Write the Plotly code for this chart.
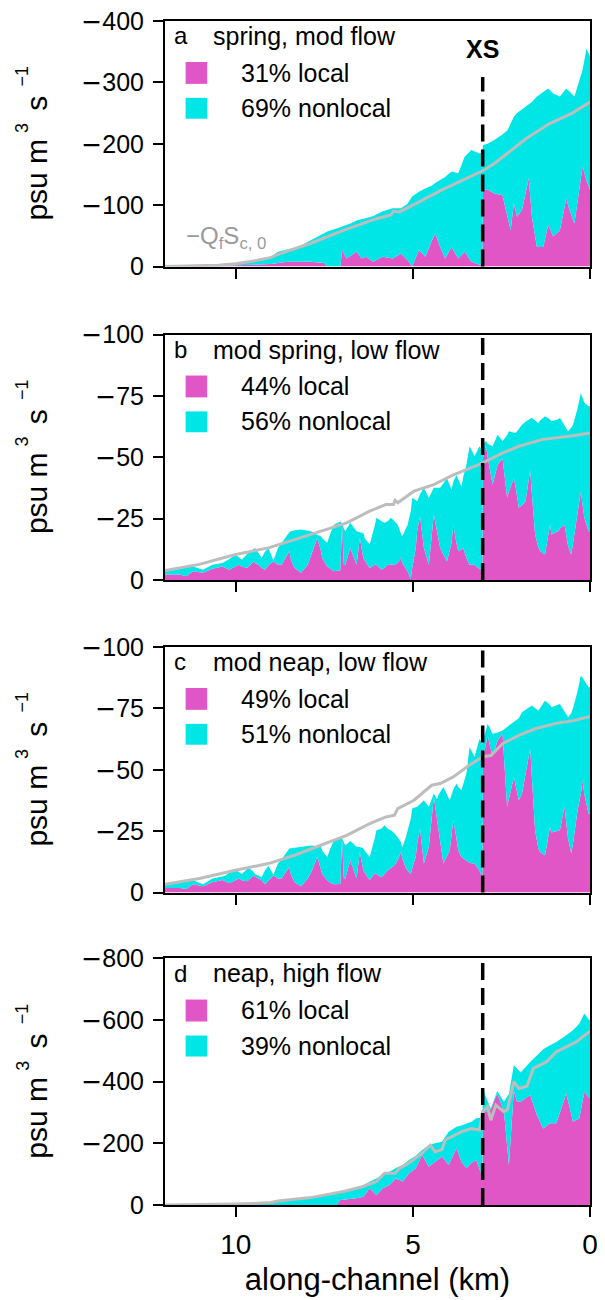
import plotly.graph_objects as go

# ---------------- data (values in psu m^3 s^-1, x in km) ----------------
XS_KM = 3.03

# panel a: spring, mod flow
km_a = [12.0, 11.0, 10.5, 10.0, 9.5, 9.0, 8.81, 8.53, 8.25, 7.88, 7.51, 7.42, 7.15, 7.05, 7.00,
        6.87, 6.73, 6.59, 6.45, 6.31, 6.13, 5.85, 5.57, 5.34, 5.16, 5.02, 4.83, 4.65, 4.46, 4.37,
        4.23, 4.09, 3.91, 3.72, 3.54, 3.35, 3.12, 3.04, 3.02, 2.89, 2.70, 2.47, 2.33, 2.24, 2.15,
        2.06, 1.92, 1.73, 1.64, 1.50, 1.32, 1.18, 1.04, 0.85, 0.67, 0.58, 0.44, 0.21, 0.10, 0.0]
local_a = [-0, -0.5, -1, -2, -3, -4, -6, -8, -8, -8, -6, -0, -0, -0, -27,
           -13, -19, -24, -13, -16, -8, -16, -13, -21, -11, -0, -27, -16, -43, -54,
           -32, -13, -32, -13, -24, -8, -3, -3, -125, -125, -119, -116, -81, -59, -103,
           -81, -92, -144, -81, -32, -32, -68, -49, -59, -111, -92, -70, -163, -140, -125]
total_a = [-0.5, -1, -2, -5, -9, -16, -24, -28, -32, -43, -55, -57, -62, -64, -66,
           -68, -71, -75, -77, -80, -82, -90, -95, -95, -102, -114, -122, -127, -132, -136,
           -141, -146, -155, -152, -179, -190, -184, -186, -198, -200, -206, -215, -222, -232, -244,
           -250, -256, -263, -268, -277, -285, -290, -282, -277, -290, -285, -277, -320, -355, -342]
gray_km_a = [12.0, 11.0, 10.5, 10.0, 9.5, 9.0, 8.81, 7.88, 6.96, 6.03, 5.62, 5.55, 5.38, 5.0,
             4.18, 3.62, 3.03, 2.70, 2.34, 1.79, 1.14, 0.50, 0.08, 0.0]
gray_a = [-0, -1, -2, -4.5, -9, -15, -20, -38, -59, -78, -84, -90, -89, -100,
          -125, -140, -156, -168, -184, -209, -233, -250, -265, -268]

# panel b: mod spring, low flow
km_b = [12.0, 11.58, 11.40, 11.21, 10.93, 10.66, 10.38, 10.29, 10.19, 10.01, 9.92, 9.83, 9.69, 9.64,
        9.50, 9.46, 9.36, 9.27, 9.18, 9.08, 8.94, 8.81, 8.71, 8.49, 8.44, 8.34, 8.16, 7.97, 7.88,
        7.70, 7.60, 7.56, 7.42, 7.33, 7.23, 7.05, 7.00, 6.95, 6.91, 6.77, 6.59, 6.50, 6.40, 6.36,
        6.22, 6.08, 6.03, 5.89, 5.80, 5.71, 5.62, 5.52, 5.43, 5.34, 5.30, 5.15, 5.06, 5.02, 4.92,
        4.88, 4.80, 4.69, 4.55, 4.41, 4.23, 4.04, 3.91, 3.86, 3.77, 3.72, 3.63, 3.58, 3.49, 3.40,
        3.26, 3.12, 3.04, 3.02, 2.94, 2.89, 2.75, 2.61, 2.47, 2.34, 2.29, 2.15, 2.10, 2.01, 1.92,
        1.82, 1.69, 1.64, 1.55, 1.46, 1.41, 1.27, 1.13, 1.09, 0.90, 0.85, 0.72, 0.62, 0.53, 0.48,
        0.35, 0.26, 0.16, 0.04, 0.0]
local_b = [-2.3, -2.3, -1.6, -3.6, -3.0, -4.6, -5.5, -5.0, -4.2, -5.5, -6.2, -5.5, -4.9, -5.5,
           -7.6, -7.0, -6.2, -5.0, -4.2, -6.0, -7.6, -6.2, -6.2, -11.8, -8.0, -4.9, -3.0, -6.2, -10.0,
           -17.1, -12.0, -9.0, -5.5, -4.5, -3.6, -4.0, -22.5, -6.2, -6.2, -13.1, -6.2, -17.1, -9.0, -8.0,
           -4.9, -6.2, -6.2, -4.2, -5.0, -6.2, -6.2, -6.2, -7.0, -9.0, -7.0, -3.6, -0.4, -5.0, -13.1,
           -20.0, -26.0, -13.1, -6.2, -26.7, -13.1, -7.6, -15.0, -22.5, -15.0, -11.8, -12.5, -13.1, -9.0, -6.2,
           -6.2, -4.5, -3.6, -50.0, -55.0, -50.0, -38.9, -46.9, -49.6, -33.5, -36.0, -41.5, -38.0, -29.5, -30.5,
           -32.1, -44.7, -35.0, -18.6, -13.5, -11.8, -10.4, -22.5, -18.6, -19.9, -21.0, -22.5, -14.0, -10.4, -15.0,
           -28.1, -36.0, -25.4, -19.9, -19.9]
total_b = [-3.6, -4.6, -4.8, -5.5, -4.2, -6.2, -7.0, -7.6, -8.5, -10.4, -9.5, -8.3, -10.5, -11.1,
           -12.5, -13.1, -11.0, -9.0, -11.5, -13.1, -8.0, -13.1, -15.0, -19.5, -19.9, -20.3, -20.6, -20.0, -19.9,
           -18.5, -17.9, -17.0, -15.2, -19.0, -22.5, -23.9, -23.0, -21.0, -19.9, -23.3, -19.9, -19.5, -19.2, -17.0,
           -14.5, -22.0, -25.4, -24.0, -23.3, -24.0, -25.4, -24.0, -22.5, -19.0, -17.9, -22.5, -28.0, -33.5, -32.5,
           -32.1, -35.0, -37.6, -33.5, -37.6, -37.6, -41.5, -36.9, -40.0, -42.8, -41.0, -38.0, -42.0, -46.9, -54.5,
           -50.4, -54.5, -52.4, -55.0, -56.6, -55.5, -54.5, -59.2, -56.6, -59.0, -60.6, -60.0, -59.9, -61.5, -63.3,
           -64.5, -65.5, -66.1, -65.0, -64.0, -65.0, -66.7, -65.5, -64.7, -65.5, -66.1, -63.0, -60.6, -62.0, -63.3,
           -70.0, -76.2, -72.2, -70.8, -70.8]
gray_km_b = [12.0, 11.03, 10.01, 9.08, 8.34, 7.6, 6.87, 6.22, 5.76, 5.55, 5.50, 5.43, 4.97, 4.41,
             3.86, 3.40, 3.03, 2.47, 2.01, 1.36, 0.81, 0.44, 0.0]
gray_b = [-3.9, -6.4, -10.4, -13.1, -16.5, -19.9, -23.3, -28.1, -30.8, -30.8, -32.5, -31.5, -36.2, -38.9,
          -42.8, -45.5, -47.7, -51.7, -54.5, -57.2, -58.1, -58.9, -59.9]

# panel c: mod neap, low flow
km_c = [12.0, 11.58, 11.40, 11.21, 10.93, 10.66, 10.38, 10.29, 10.19, 10.01, 9.92, 9.83, 9.69, 9.64,
        9.50, 9.46, 9.27, 9.18, 9.08, 8.94, 8.81, 8.71, 8.49, 8.44, 8.34, 8.16, 7.97, 7.88,
        7.70, 7.60, 7.56, 7.42, 7.33, 7.23, 7.05, 7.00, 6.95, 6.91, 6.77, 6.59, 6.50, 6.40, 6.36,
        6.22, 6.08, 6.03, 5.89, 5.80, 5.71, 5.62, 5.52, 5.43, 5.34, 5.30, 5.21, 5.15, 5.06, 5.02,
        4.92, 4.88, 4.80, 4.69, 4.55, 4.41, 4.32, 4.27, 4.14, 3.96, 3.86, 3.77, 3.72, 3.63, 3.49,
        3.40, 3.26, 3.12, 3.04, 3.02, 2.89, 2.75, 2.61, 2.47, 2.34, 2.15, 2.01, 1.92, 1.69, 1.64,
        1.55, 1.46, 1.41, 1.27, 1.13, 1.09, 0.85, 0.72, 0.62, 0.53, 0.48, 0.35, 0.26, 0.21, 0.16,
        0.04, 0.0]
local_c = [-1.9, -1.9, -1.4, -3.4, -2.6, -4.2, -5.1, -4.5, -3.8, -5.0, -5.7, -5.0, -4.6, -5.0,
           -6.9, -6.5, -5.0, -3.4, -5.0, -6.9, -5.7, -5.7, -10.4, -7.0, -4.2, -2.6, -5.7, -8.0,
           -14.5, -10.0, -7.6, -5.0, -4.0, -3.4, -3.5, -21.9, -5.7, -5.7, -13.1, -5.7, -16.5, -9.0, -8.0,
           -5.0, -8.0, -7.6, -6.2, -7.5, -9.0, -10.0, -11.1, -13.0, -16.5, -14.0, -10.4, -9.0, -7.6, -10.0,
           -14.5, -20.0, -26.0, -11.8, -18.6, -38.9, -30.0, -25.4, -11.8, -17.2, -29.5, -22.0, -17.2, -14.5, -13.1,
           -12.0, -11.8, -9.0, -5.6, -55.0, -63.9, -55.3, -61.9, -64.7, -34.9, -47.1, -37.6, -40.3, -58.6, -45.0,
           -25.4, -18.0, -16.5, -15.2, -26.7, -24.5, -25.4, -34.9, -22.0, -15.9, -20.0, -33.5, -40.0, -45.7, -40.0,
           -32.1, -32.1]
total_c = [-3.0, -4.0, -4.3, -5.0, -3.4, -5.7, -6.5, -6.9, -8.0, -9.1, -8.5, -7.6, -9.5, -10.1,
           -8.5, -7.6, -6.2, -9.0, -10.8, -7.2, -11.8, -13.5, -17.9, -18.0, -18.5, -18.8, -19.0, -19.2,
           -19.0, -19.2, -17.0, -14.5, -18.0, -21.2, -22.5, -22.0, -20.5, -19.2, -21.0, -18.6, -18.5, -18.0, -17.0,
           -14.5, -22.0, -25.4, -26.0, -27.4, -26.0, -25.4, -24.0, -22.5, -20.5, -18.4, -22.0, -25.4, -30.0, -34.2,
           -34.5, -34.9, -36.0, -37.6, -34.9, -40.3, -38.0, -40.0, -43.0, -37.6, -42.0, -44.4, -43.0, -41.7, -48.5,
           -59.2, -55.3, -62.6, -60.6, -62.0, -68.7, -64.7, -65.2, -66.0, -67.4, -69.4, -71.0, -73.4, -75.5, -76.2,
           -75.0, -74.1, -75.0, -78.2, -76.5, -75.5, -76.8, -74.0, -71.4, -73.0, -75.0, -82.0, -88.4, -87.5, -86.3,
           -83.6, -83.6]
gray_km_c = [12.0, 11.03, 10.01, 9.08, 8.34, 7.6, 6.87, 6.22, 5.76, 5.52, 5.43, 4.97, 4.47, 4.23,
             3.86, 3.40, 3.03, 2.80, 2.47, 2.01, 1.55, 0.99, 0.44, 0.0]
gray_c = [-3.4, -5.7, -9.1, -11.8, -15.2, -19.2, -23.3, -28.1, -30.8, -31.5, -34.2, -37.6, -43.7, -44.4,
          -47.1, -51.9, -55.3, -55.8, -60.6, -64.0, -66.7, -68.8, -70.1, -71.7]

# panel d: neap, high flow
km_d = [12.0, 11.0, 10.0, 9.5, 9.0, 8.81, 7.88, 7.15, 7.05, 6.59, 6.40, 6.22, 6.03, 5.85, 5.66,
        5.48, 5.29, 5.11, 4.92, 4.74, 4.55, 4.37, 4.18, 3.99, 3.77, 3.63, 3.49, 3.35, 3.21, 3.08,
        3.04, 3.02, 2.94, 2.80, 2.62, 2.43, 2.29, 2.15, 2.06, 1.96, 1.69, 1.50, 1.32, 1.13, 0.95,
        0.67, 0.48, 0.30, 0.16, 0.02, 0.0]
local_d = [-0, -0, -0, -0, -0, -0, -0, -0, -16, -22, -27, -54, -32, -54, -65,
           -86, -76, -103, -119, -162, -124, -140, -157, -130, -184, -140, -119, -136, -146, -103,
           -90, -295, -303, -310, -362, -303, -130, -370, -335, -335, -357, -292, -248, -265, -265,
           -362, -270, -281, -367, -346, -346]
total_d = [-0.5, -1, -3, -5, -9, -11, -22, -40, -42, -55, -65, -75, -86, -97, -108,
           -120, -130, -146, -160, -178, -195, -200, -205, -238, -254, -258, -265, -270, -281, -283,
           -283, -378, -350, -313, -370, -335, -360, -454, -443, -430, -464, -486, -505, -518, -529,
           -551, -567, -589, -621, -599, -599]
gray_km_d = [12.0, 11.0, 10.0, 9.5, 9.0, 8.81, 7.88, 6.96, 6.40, 6.03, 5.80, 5.50, 5.38, 5.11,
             4.74, 4.51, 4.37, 4.18, 4.09, 3.81, 3.62, 3.35, 3.12, 3.03, 2.89, 2.80, 2.66, 2.43,
             2.33, 2.15, 2.01, 1.78, 1.60, 1.23, 0.95, 0.67, 0.39, 0.02, 0.0]
gray_d = [-0, -1, -3, -5, -8, -13, -24, -44, -60, -76, -103, -103, -119, -136,
          -168, -194, -173, -180, -211, -227, -238, -248, -243, -303, -318, -275, -324, -303,
          -310, -400, -378, -385, -443, -464, -497, -513, -529, -562, -565]

panel_letters = ["a", "b", "c", "d"]
panel_titles = ["spring, mod flow", "mod spring, low flow", "mod neap, low flow", "neap, high flow"]
local_pct = ["31% local", "44% local", "49% local", "61% local"]
nonlocal_pct = ["69% nonlocal", "56% nonlocal", "51% nonlocal", "39% nonlocal"]
y_ticks = [[0, -100, -200, -300, -400], [0, -25, -50, -75, -100],
           [0, -25, -50, -75, -100], [0, -200, -400, -600, -800]]
x_ticks = [10, 5, 0]

panels = [
    (km_a, local_a, total_a, gray_km_a, gray_a),
    (km_b, local_b, total_b, gray_km_b, gray_b),
    (km_c, local_c, total_c, gray_km_c, gray_c),
    (km_d, local_d, total_d, gray_km_d, gray_d),
]
for p in panels:
    assert len(p[0]) == len(p[1]) == len(p[2]), (len(p[0]), len(p[1]), len(p[2]))
    assert len(p[3]) == len(p[4])

# ---------------- style ----------------
MAGENTA = "#E056C6"
CYAN = "#00E6E6"
GRAY = "#BDBDBD"
FONT = "Arial, 'Liberation Sans', Helvetica, sans-serif"
FS = 24

domains = [[0.7926, 1.0], [0.5278, 0.7352], [0.2639, 0.4713], [0.0, 0.2083]]


def tick_label(v):
    if v == 0:
        return "0"
    return "<span style='font-family:DejaVu Sans'>\u2212</span>" + str(abs(v))


fig = go.Figure()
for i, (km, loc, tot, gkm, gv) in enumerate(panels):
    n = i + 1
    xa = "x" if n == 1 else f"x{n}"
    ya = "y" if n == 1 else f"y{n}"
    fig.add_trace(go.Scatter(x=km, y=loc, mode="lines", line=dict(width=0, color=MAGENTA),
                             fill="tozeroy", fillcolor=MAGENTA, xaxis=xa, yaxis=ya,
                             showlegend=False, hoverinfo="skip"))
    fig.add_trace(go.Scatter(x=km, y=tot, mode="lines", line=dict(width=0, color=CYAN),
                             fill="tonexty", fillcolor=CYAN, xaxis=xa, yaxis=ya,
                             showlegend=False, hoverinfo="skip"))
    fig.add_trace(go.Scatter(x=gkm, y=gv, mode="lines", line=dict(width=3, color=GRAY),
                             xaxis=xa, yaxis=ya, showlegend=False, hoverinfo="skip"))

layout = dict(
    width=605, height=1300,
    margin=dict(l=165, r=7, t=19, b=95),
    paper_bgcolor="white", plot_bgcolor="white",
    font=dict(family=FONT, size=FS, color="black"),
    showlegend=False,
)
axis_common = dict(showline=True, linewidth=2, linecolor="black", mirror=True,
                   ticks="outside", ticklen=10, tickwidth=2, tickcolor="black",
                   showgrid=False, zeroline=False)
shapes = []
annotations = []
X_MAIN = -0.3025   # y-title main text (paper x)
X_SUP = -0.336     # y-title superscripts (paper x)
for i in range(4):
    n = i + 1
    xk = "xaxis" if n == 1 else f"xaxis{n}"
    yk = "yaxis" if n == 1 else f"yaxis{n}"
    xr = "x" if n == 1 else f"x{n}"
    yr = "y" if n == 1 else f"y{n}"
    layout[xk] = dict(axis_common, domain=[0, 1], range=[12.0, 0], anchor=yr,
                      tickvals=x_ticks, showticklabels=(n == 4),
                      tickfont=dict(family=FONT, size=28), ticklabelstandoff=3)
    if n == 4:
        layout[xk]["title"] = dict(text="along-channel (km)", font=dict(size=31), standoff=10)
    yt = y_ticks[i]
    layout[yk] = dict(axis_common, domain=domains[i], range=[0, yt[-1]], anchor=xr,
                      tickvals=yt, ticktext=[tick_label(v) for v in yt], ticklabelstandoff=4,
                      tickfont=dict(family=FONT, size=25))
    # XS dashed line
    shapes.append(dict(type="line", xref=xr, yref=f"{yr} domain", x0=XS_KM, x1=XS_KM,
                       y0=0, y1=(0.772 if n == 1 else 1.0),
                       line=dict(color="black", width=3.5, dash="17px,8px")))
    # legend squares
    shapes.append(dict(type="rect", xref=f"{xr} domain", yref=f"{yr} domain",
                       x0=0.0485, x1=0.0993, y0=0.744, y1=0.833,
                       fillcolor=MAGENTA, line=dict(width=0)))
    shapes.append(dict(type="rect", xref=f"{xr} domain", yref=f"{yr} domain",
                       x0=0.0485, x1=0.0993, y0=0.602, y1=0.687,
                       fillcolor=CYAN, line=dict(width=0)))
    annotations += [
        dict(xref=f"{xr} domain", yref=f"{yr} domain", x=0.016, y=0.939, xanchor="left",
             yanchor="middle", text=panel_letters[i], showarrow=False, font=dict(size=FS)),
        dict(xref=f"{xr} domain", yref=f"{yr} domain", x=0.109, y=0.939, xanchor="left",
             yanchor="middle", text=panel_titles[i], showarrow=False, font=dict(size=25)),
        dict(xref=f"{xr} domain", yref=f"{yr} domain", x=0.175, y=0.789, xanchor="left",
             yanchor="middle", text=local_pct[i], showarrow=False, font=dict(size=25)),
        dict(xref=f"{xr} domain", yref=f"{yr} domain", x=0.175, y=0.646, xanchor="left",
             yanchor="middle", text=nonlocal_pct[i], showarrow=False, font=dict(size=25)),
        # y-axis title: psu m^3 s^-1, with raised exponents
        dict(xref="paper", yref=f"{yr} domain", x=X_MAIN, y=0.356, xanchor="center",
             yanchor="middle", textangle=-90, showarrow=False, text="psu m",
             font=dict(size=30)),
        dict(xref="paper", yref=f"{yr} domain", x=X_SUP, y=0.565, xanchor="center",
             yanchor="middle", textangle=-90, showarrow=False, text="3",
             font=dict(size=18)),
        dict(xref="paper", yref=f"{yr} domain", x=X_MAIN, y=0.6646, xanchor="center",
             yanchor="middle", textangle=-90, showarrow=False, text="s",
             font=dict(size=30)),
        dict(xref="paper", yref=f"{yr} domain", x=X_SUP, y=0.7744, xanchor="center",
             yanchor="middle", textangle=-90, showarrow=False, text="\u22121",
             font=dict(size=18)),
    ]

annotations.append(dict(xref="x", yref="y domain", x=XS_KM, y=0.886, xanchor="center",
                        yanchor="middle", text="<b>XS</b>", showarrow=False,
                        font=dict(size=25)))
annotations.append(dict(xref="x domain", yref="y domain", x=0.044, y=0.12, xanchor="left",
                        yanchor="middle", text="\u2212Q<sub>f</sub>S<sub>c, 0</sub>",
                        showarrow=False, font=dict(size=24, color="#9A9A9A")))

layout["shapes"] = shapes
layout["annotations"] = annotations
fig.update_layout(**layout)
fig.write_html("out.html")
